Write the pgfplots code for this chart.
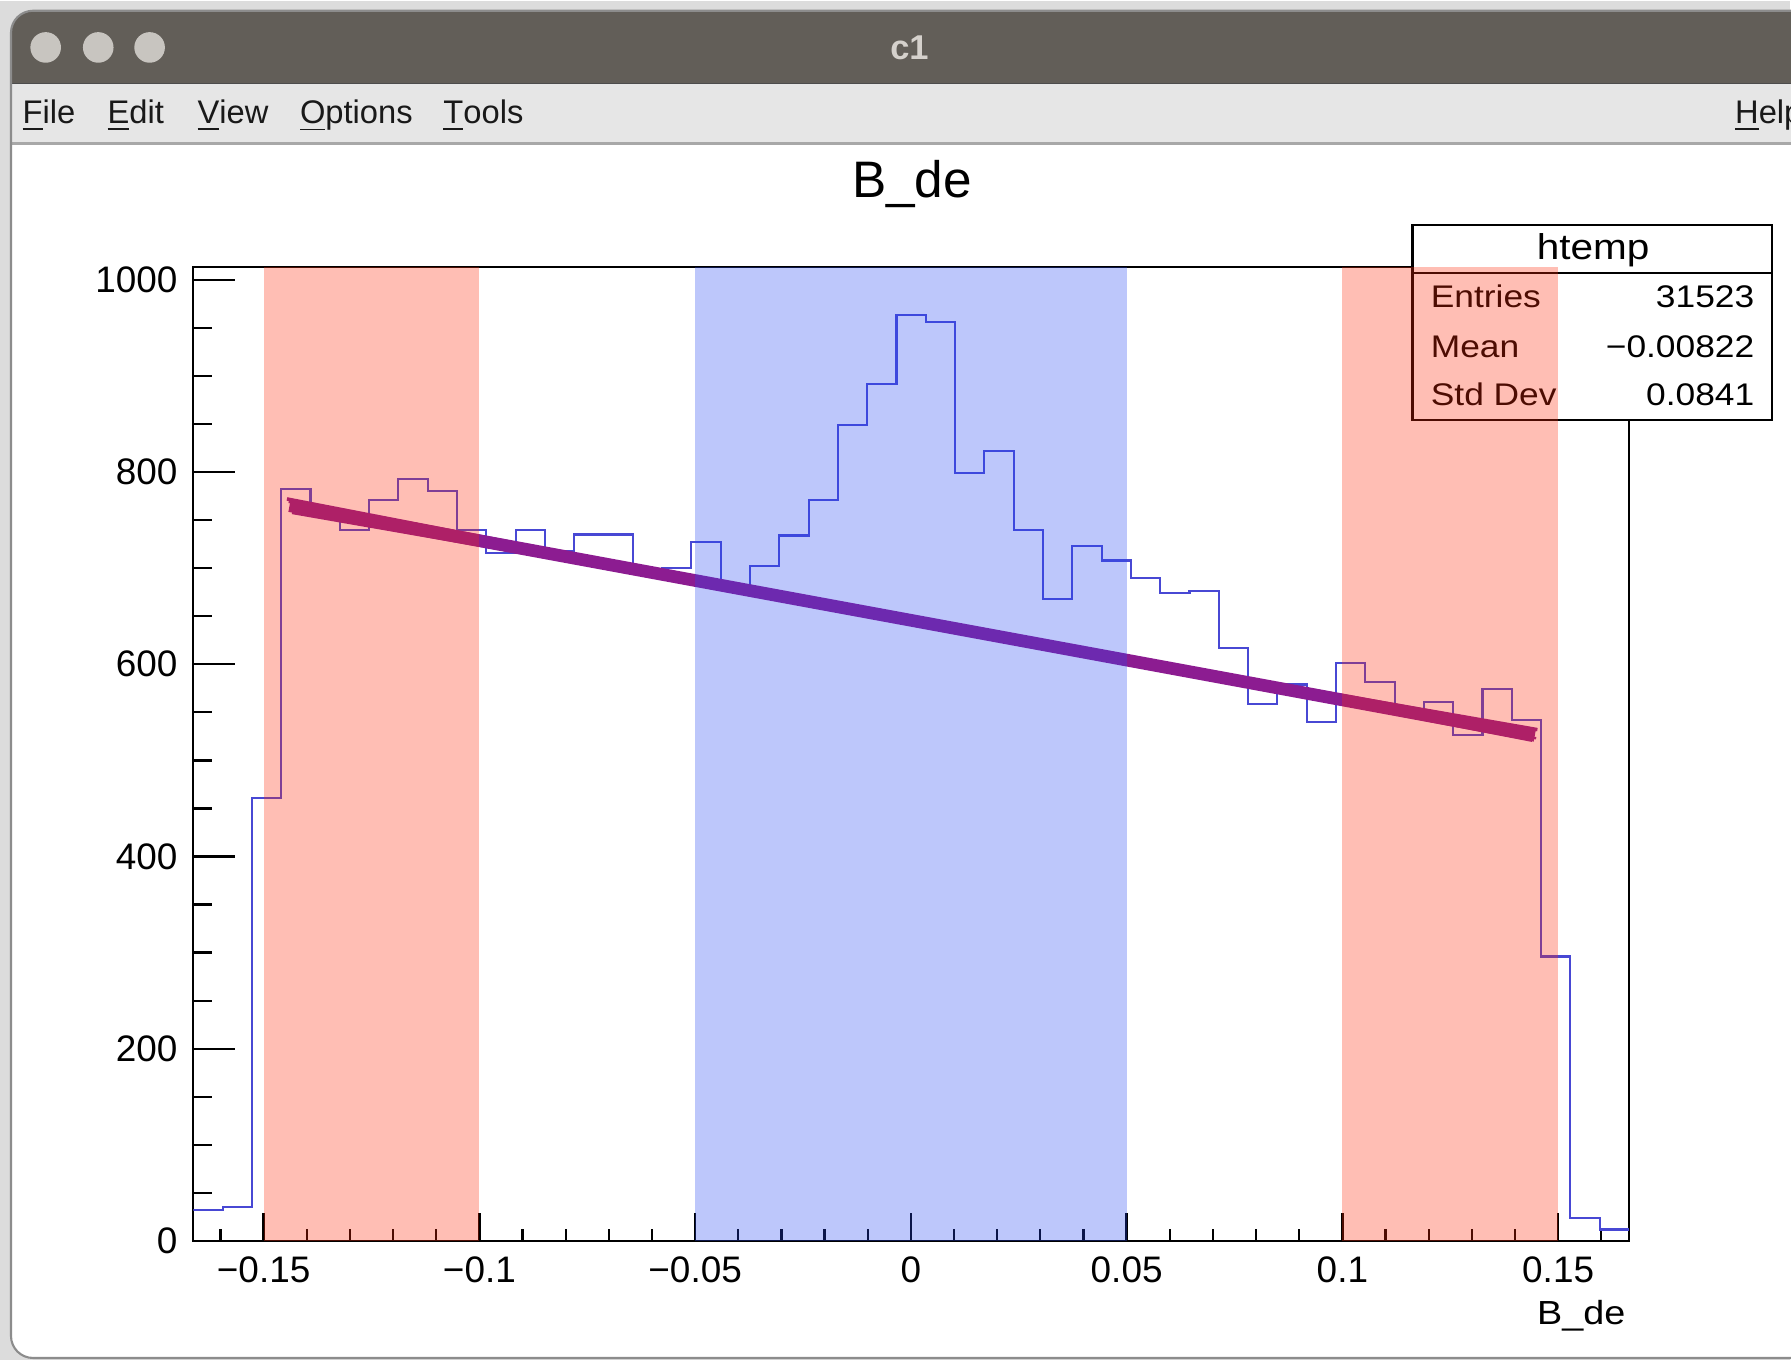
\documentclass[border=0pt]{standalone}
\usepackage{fontspec}
\setmainfont{Liberation Sans}
\newfontfamily\statfont[FakeStretch=1.13]{Liberation Sans}
\usepackage{pgfplots}
\pgfplotsset{compat=1.18}
\usepackage{pgfplotstable}

\definecolor{histblue}{RGB}{72,72,212}
\definecolor{fitcol}{RGB}{140,28,145}
\definecolor{bandred}{RGB}{255,42,8}
\definecolor{bandblue}{RGB}{38,72,245}
\definecolor{titlebar}{RGB}{98,94,88}
\definecolor{menubar}{RGB}{230,230,230}
\definecolor{menuline}{RGB}{168,168,168}
\definecolor{circ}{RGB}{200,197,192}
\definecolor{outerbg}{RGB}{220,220,220}
\definecolor{ctext}{RGB}{213,209,204}

\pgfplotstableread{
x y
-0.16630 32
-0.15951 35
-0.15272 461
-0.14593 782
-0.13914 757
-0.13235 740
-0.12556 771
-0.11877 793
-0.11198 780
-0.10519 740
-0.09840 716
-0.09161 740
-0.08482 718
-0.07803 735
-0.07124 735
-0.06445 698
-0.05766 700
-0.05087 727
-0.04408 682
-0.03729 702
-0.03050 734
-0.02371 771
-0.01692 849
-0.01013 892
-0.00334 963
0.00345 956
0.01024 799
0.01703 822
0.02382 740
0.03061 668
0.03740 723
0.04419 708
0.05098 690
0.05777 674
0.06456 676
0.07135 617
0.07814 559
0.08493 579
0.09172 540
0.09851 601
0.10530 582
0.11209 549
0.11888 561
0.12567 526
0.13246 574
0.13925 542
0.14604 296
0.15283 24
0.15962 12
0.16641 12
}\histdata

\pgfplotsset{myaxis/.style={scale only axis, width=14.356cm, height=9.737cm,
  xmin=-0.1663, xmax=0.1664, ymin=0, ymax=1013,
  at={(1.933cm,1.19cm)}, anchor=south west}}

\begin{document}
\begin{tikzpicture}
\path[use as bounding box] (0,0) rectangle (17.91cm,13.6cm);
\clip (0,0) rectangle (17.91cm,13.6cm);
\begin{scope}[x=0.01cm,y=0.01cm]
\fill[outerbg] (0,0) rectangle (1791,1360);
\begin{scope}
\clip[rounded corners=0.22cm] (11,2) rectangle (1840,1350);
\fill[white] (11,2) rectangle (1840,1350);
\fill[titlebar] (11,1277.3) rectangle (1840,1350);
\fill[menubar] (11,1216) rectangle (1840,1277.3);
\draw[black!70, line width=0.5pt] (11,1277.3) -- (1840,1277.3);
\fill[menuline] (11,1216) rectangle (1840,1218.3);
\end{scope}
\draw[rounded corners=0.22cm, black!45, line width=0.6pt] (11,2) rectangle (1840,1350);
\foreach \cx in {45.7,98.3,149.7} \fill[circ] (\cx,1313.3) circle[radius=0.153cm];
\node[text=ctext, font=\bfseries\fontsize{9.8}{11}\selectfont] at (910,1313.3) {c1};
\begin{scope}[every node/.style={anchor=base west, inner sep=0pt, text=black!90, font=\fontsize{9.3}{10}\selectfont}]
\node at (22,1236.7) {\underline{F}ile};
\node at (107,1236.7) {\underline{E}dit};
\node at (197,1236.7) {\underline{V}iew};
\node at (299.5,1236.7) {\underline{O}ptions};
\node at (443,1236.7) {\underline{T}ools};
\node at (1735.5,1236.7) {\underline{H}elp};
\end{scope}
\node[anchor=base, inner sep=0pt, font=\fontsize{14.6}{16}\selectfont] at (912.5,1163.3) {B\_de};
\node[anchor=base east, inner sep=0pt, font=\statfont\fontsize{9.5}{10}\selectfont] at (1627,36) {B\_de};
\end{scope}

\begin{axis}[myaxis,
  axis line style={line width=0.65pt},
  every tick/.style={black, line width=0.65pt},
  major tick length=11.9pt,
  minor tick length=5.4pt,
  xtick style={/pgfplots/major tick length=7.9pt,/pgfplots/minor tick length=3.3pt},
  tick align=inside,
  xtick pos=left, ytick pos=left,
  xtick={-0.15,-0.1,-0.05,0,0.05,0.1,0.15},
  xticklabels={−0.15,−0.1,−0.05,0,0.05,0.1,0.15},
  minor xtick={-0.16,-0.15,...,0.165},
  ytick={0,200,400,600,800,1000},
  yticklabels={0,200,400,600,800,1000},
  minor ytick={0,50,...,1000},
  /pgf/number format/assume math mode=true,
  tick label style={font=\fontsize{10.5}{12}\selectfont},
  xticklabel style={anchor=north, inner sep=0pt, yshift=-4.3pt},
  yticklabel style={anchor=east, inner sep=0pt, xshift=-4.3pt},
]
\addplot[histblue, line width=0.6pt, const plot mark left, mark=none] table[x=x,y=y]{\histdata};
\addplot[fitcol, line width=3.6pt] coordinates {(-0.1440,765) (0.1446,526)};
\addplot[fitcol, line width=1.0pt] coordinates {(-0.1446,772) (0.1440,521)};
\addplot[fitcol, line width=1.0pt] coordinates {(-0.1434,758) (0.1452,532)};
\addplot[fitcol, line width=0.7pt] coordinates {(-0.1442,769) (0.1443,530)};
\addplot[fitcol, line width=0.7pt] coordinates {(-0.1438,761) (0.1449,523)};
\end{axis}

\begin{scope}[x=0.01cm,y=0.01cm]
\fill[white] (1413.3,940.7) rectangle (1773.3,1136);
\draw[line width=0.6pt] (1413.3,940.7) rectangle (1773.3,1136);
\draw[line width=0.6pt] (1413.3,1087.7) -- (1773.3,1087.7);
\begin{scope}[every node/.style={inner sep=0pt, font=\statfont\fontsize{8.9}{10}\selectfont}]
\node[anchor=base, font=\statfont\fontsize{10.2}{11}\selectfont] at (1594,1101.5) {htemp};
\node[anchor=base west] at (1431,1053.3) {Entries};
\node[anchor=base west] at (1431,1003.3) {Mean};
\node[anchor=base west] at (1431,955) {Std Dev};
\node[anchor=base east] at (1756,1053.3) {31523};
\node[anchor=base east] at (1756,1003.3) {−0.00822};
\node[anchor=base east] at (1756,955) {0.0841};
\end{scope}
\end{scope}

\begin{axis}[myaxis, hide axis]
\addplot[draw=none, fill=bandred, fill opacity=0.3] coordinates {(-0.15,1100) (-0.1,1100)} \closedcycle;
\addplot[draw=none, fill=bandblue, fill opacity=0.3] coordinates {(-0.05,1100) (0.05,1100)} \closedcycle;
\addplot[draw=none, fill=bandred, fill opacity=0.3] coordinates {(0.1,1100) (0.15,1100)} \closedcycle;
\end{axis}
\end{tikzpicture}
\end{document}
